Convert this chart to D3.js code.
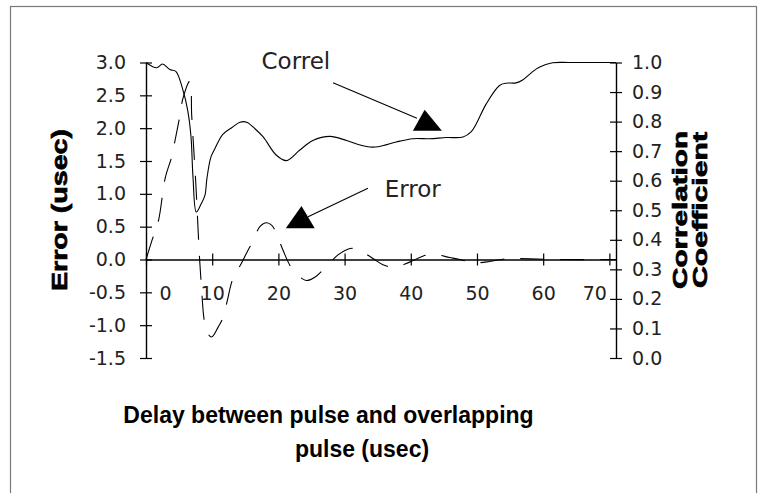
<!DOCTYPE html>
<html>
<head>
<meta charset="utf-8">
<script src="https://cdn.jsdelivr.net/npm/d3@7"></script>
<style>
  html, body { margin: 0; padding: 0; background: #fff; }
  svg { display: block; }
</style>
</head>
<body>
<svg id="chart" width="766" height="493"></svg>
<script>
// ---- data ----
const xTicks = [0, 10, 20, 30, 40, 50, 60, 70];
const leftTicks = [-1.5, -1.0, -0.5, 0.0, 0.5, 1.0, 1.5, 2.0, 2.5, 3.0];
const rightTicks = [0.0, 0.1, 0.2, 0.3, 0.4, 0.5, 0.6, 0.7, 0.8, 0.9, 1.0];

const delayCorrel = [0, 1.6, 2.5, 3.6, 4.5, 5.6, 6.3, 6.8, 7.1, 7.6, 8.3, 8.9, 9.2, 9.8, 10.4, 11.6, 13.0, 14.2, 15.2, 16.5, 17.7, 19.7, 21.2, 23.2, 25.2, 27.8, 30.3, 32.5, 33.8, 35.3, 37.8, 40.3, 42.8, 45.4, 47.9, 49.1, 49.9, 51.4, 53.4, 54.4, 55.9, 56.9, 58.2, 59.4, 61.4, 64, 71];
const correl = [1.0, 0.982, 0.995, 0.976, 0.97, 0.905, 0.838, 0.748, 0.612, 0.494, 0.52, 0.55, 0.607, 0.68, 0.708, 0.757, 0.78, 0.798, 0.798, 0.775, 0.748, 0.686, 0.668, 0.703, 0.736, 0.75, 0.736, 0.72, 0.714, 0.716, 0.731, 0.742, 0.742, 0.746, 0.748, 0.765, 0.793, 0.86, 0.922, 0.93, 0.931, 0.941, 0.965, 0.984, 0.999, 1.0, 1.0];

const delayError = [0, 0.9, 1.9, 2.9, 3.9, 4.4, 5.1, 5.6, 6.64, 6.9, 7.2, 7.5, 7.8, 8.1, 8.4, 8.7, 9.1, 9.9, 10.9, 11.66, 12.3, 13.1, 14.4, 15.2, 16.2, 17.2, 18.2, 19.0, 19.7, 20.7, 22.2, 24.2, 25.5, 27.1, 29.0, 30.3, 31.3, 32.3, 34.3, 35.8, 37.5, 39.8, 41.8, 43.3, 45.9, 47.4, 49.4, 51.9, 53.9, 55.4, 58, 62, 71];
const errorVals = [0, 0.29, 0.6, 1.24, 1.57, 1.82, 2.18, 2.46, 2.72, 2.2, 1.7, 1.2, 0.6, 0.0, -0.45, -0.85, -1.08, -1.18, -1.03, -0.88, -0.62, -0.3, -0.06, 0.1, 0.29, 0.5, 0.56, 0.52, 0.40, 0.14, -0.16, -0.32, -0.27, -0.12, 0.07, 0.15, 0.17, 0.14, 0.015, -0.08, -0.12, -0.04, 0.05, 0.08, 0.03, 0.0, -0.05, -0.03, 0.005, 0.015, 0.01, 0.0, 0.0];

// annotation anchors in data units (x: delay, y: left axis units)
const correlLabel = { text: "Correl", x: 17.45, y: 2.896 };
const correlArrow = { x1: 28.25, y1: 2.69, x2: 40.93, y2: 2.15, tipX: 42.09, tipY: 2.28, baseX1: 40.32, baseX2: 44.70, baseY: 1.96 };
const errorLabel = { text: "Error", x: 36.05, y: 0.956 };
const errorArrow = { x1: 33.53, y1: 1.084, x2: 24.48, y2: 0.652, tipX: 23.49, tipY: 0.815, baseX1: 21.12, baseX2: 25.49, baseY: 0.475 };

// ---- drawing ----
const svg = d3.select("#chart");
svg.append("rect").attr("width", 766).attr("height", 493).attr("fill", "#fff");
svg.append("rect").attr("x", 10.5).attr("y", 6.5).attr("width", 746).attr("height", 520)
  .attr("fill", "none").attr("stroke", "#7a7a7a").attr("stroke-width", 1.2);

const x = d3.scaleLinear().domain([0, 71]).range([146, 616]);
const yL = d3.scaleLinear().domain([-1.5, 3.0]).range([358, 62.5]);
const yR = d3.scaleLinear().domain([0, 1]).range([358, 62.5]);

const tickFont = "'DejaVu Sans', sans-serif";

// left axis
const gL = svg.append("g").attr("transform", `translate(${x(0)},0)`)
  .call(d3.axisLeft(yL).tickValues(leftTicks).tickFormat(d => d.toFixed(1)).tickSize(6).tickSizeOuter(0).tickPadding(14));
gL.selectAll(".tick line").attr("x1", -6).attr("x2", 6);

// right axis
const gR = svg.append("g").attr("transform", `translate(${x.range()[1]},0)`)
  .call(d3.axisRight(yR).tickValues(rightTicks).tickFormat(d => d.toFixed(1)).tickSize(6).tickSizeOuter(0).tickPadding(10));
gR.selectAll(".tick line").attr("x1", -6).attr("x2", 6);

// x axis at error = 0
const gX = svg.append("g").attr("transform", `translate(0,${yL(0)})`)
  .call(d3.axisBottom(x).tickValues(xTicks).tickFormat(d => d).tickSize(6).tickSizeOuter(0).tickPadding(21));
gX.selectAll(".tick line").attr("y1", -6).attr("y2", 6);
gX.selectAll(".tick text").attr("dx", d => d === 0 ? 19 : (d === 70 ? -15 : 0));

[gL, gR, gX].forEach(g => {
  g.selectAll("path.domain").attr("stroke", "#000").attr("stroke-width", 1.4);
  g.selectAll(".tick line").attr("stroke", "#000").attr("stroke-width", 1.2);
  g.selectAll(".tick text").attr("font-family", tickFont).attr("font-size", 19).attr("fill", "#222");
});

// series
const correlLine = d3.line().x((d, i) => x(delayCorrel[i])).y(d => yR(d)).curve(d3.curveCatmullRom.alpha(0.5));
svg.append("path").attr("d", correlLine(correl))
  .attr("fill", "none").attr("stroke", "#000").attr("stroke-width", 1.1);

const errorLine = d3.line().x((d, i) => x(delayError[i])).y(d => yL(d)).curve(d3.curveCatmullRom.alpha(0.5));
svg.append("path").attr("d", errorLine(errorVals))
  .attr("fill", "none").attr("stroke", "#000").attr("stroke-width", 1.1)
  .attr("stroke-dasharray", "24,16");

// annotations
function drawArrow(a) {
  svg.append("line").attr("x1", x(a.x1)).attr("y1", yL(a.y1)).attr("x2", x(a.x2)).attr("y2", yL(a.y2))
    .attr("stroke", "#000").attr("stroke-width", 1.1);
  const pts = [[x(a.tipX), yL(a.tipY)], [x(a.baseX1), yL(a.baseY)], [x(a.baseX2), yL(a.baseY)]];
  svg.append("polygon").attr("points", pts.map(p => p.join(",")).join(" ")).attr("fill", "#000");
}
drawArrow(correlArrow);
drawArrow(errorArrow);
[correlLabel, errorLabel].forEach(l => {
  svg.append("text").attr("x", x(l.x)).attr("y", yL(l.y)).text(l.text)
    .attr("font-family", tickFont).attr("font-size", 23).attr("fill", "#222");
});

// titles
const titleFont = "'Liberation Sans', Arial, sans-serif";
function vTitle(cx, txt, size, len) {
  svg.append("text").attr("transform", `translate(${cx},210) rotate(-90)`).attr("text-anchor", "middle")
    .attr("font-family", titleFont).attr("font-weight", "bold").attr("font-size", size)
    .attr("textLength", len).attr("lengthAdjust", "spacingAndGlyphs")
    .attr("stroke", "#000").attr("stroke-width", 0.7).text(txt);
}
vTitle(67, "Error (usec)", 22, 162);
vTitle(687, "Correlation", 20, 158);
vTitle(707, "Coefficient", 20, 156);

svg.append("text").attr("x", 328.5).attr("y", 422.7).attr("text-anchor", "middle")
  .attr("font-family", titleFont).attr("font-weight", "bold").attr("font-size", 23).text("Delay between pulse and overlapping");
svg.append("text").attr("x", 362).attr("y", 456.7).attr("text-anchor", "middle")
  .attr("font-family", titleFont).attr("font-weight", "bold").attr("font-size", 23).text("pulse (usec)");
</script>
</body>
</html>
